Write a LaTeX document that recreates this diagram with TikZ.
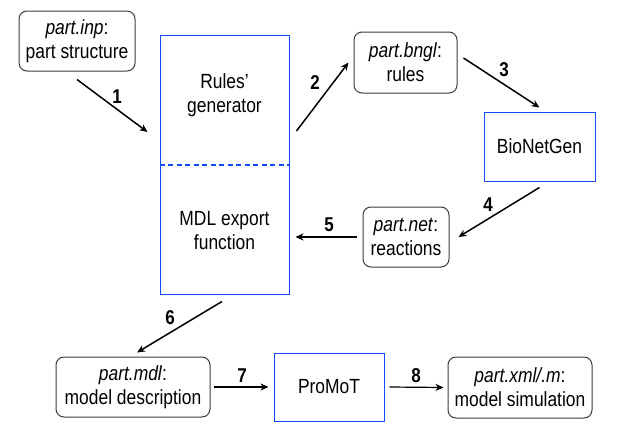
\documentclass[tikz,border=0pt]{standalone}
\usepackage{fontspec}
\setmainfont{Liberation Sans}[FakeStretch=0.85]
\usetikzlibrary{arrows.meta,calc}
\definecolor{bblue}{RGB}{20,75,255}
\definecolor{bgray}{RGB}{60,60,60}
\begin{document}
\begin{tikzpicture}[x=1pt,y=-1pt,
  txt/.style={font=\fontsize{20.5}{24}\selectfont, align=center, inner sep=0pt},
  filebox/.style={txt, draw=bgray, line width=1pt, rounded corners=8pt},
  toolbox/.style={txt, draw=bblue, line width=1pt},
  arr/.style={line width=1.5pt, -{Stealth[length=8pt,width=7pt,inset=2.5pt]}},
  num/.style={font=\fontsize{20}{20}\selectfont\bfseries, inner sep=0pt}]
\useasboundingbox (0,0) rectangle (625,429);

% nodes
\node[filebox, minimum width=116pt, minimum height=60pt] (inp) at (77,41) {\textit{part.inp}:\\part structure};
\node[toolbox, minimum width=129pt, minimum height=259pt] (rg) at (224.5,164.5) {};
\node[txt] (rgtxt) at (224.5,95.5) {Rules’\\generator};
\node[txt] (mdltxt) at (224.5,230.5) {MDL export\\function};
\draw[bblue, line width=2pt, dash pattern=on 5pt off 3.5pt] (rg.west |- 0,165) -- (rg.east |- 0,165);
\node[filebox, minimum width=103pt, minimum height=61pt] (bngl) at (405.5,62.5) {\textit{part.bngl}:\\rules};
\node[toolbox, minimum width=111pt, minimum height=69pt] (bng) at (539.5,146.5) {BioNetGen};
\node[filebox, minimum width=86pt, minimum height=60pt] (net) at (406,237) {\textit{part.net}:\\reactions};
\node[filebox, minimum width=154pt, minimum height=60pt] (mdl) at (133,387) {\textit{part.mdl}:\\model description};
\node[toolbox, minimum width=110pt, minimum height=68pt] (promot) at (329,387) {ProMoT};
\node[filebox, minimum width=144pt, minimum height=61pt] (xml) at (520,387.5) {\textit{part.xml/.m}:\\model simulation};

% connectors
\draw[arr] ([yshift=-8pt]inp.south) -- ([xshift=-12pt,yshift=32.5pt]rg.west);
\draw[arr] ([xshift=7pt,yshift=33.5pt]rg.east) -- ([xshift=-5pt]bngl.west);
\draw[arr] ([xshift=6pt,yshift=4.5pt]bngl.east) -- ([yshift=4pt]bng.north);
\draw[arr] ([yshift=-6pt]bng.south) -- ([xshift=9pt]net.east);
\draw[arr, line width=1.2pt] ([xshift=-6pt]net.west) -- ([xshift=6pt,yshift=-72.5pt]rg.east);
\draw[arr] ([xshift=-2.5pt,yshift=-7pt]rg.south) -- ([xshift=4pt,yshift=4pt]mdl.north);
\draw[arr, line width=1.8pt] ([xshift=3pt]mdl.east) -- ([xshift=-5pt]promot.west);
\draw[arr, line width=1.2pt] ([xshift=5pt]promot.east) -- ([xshift=-4pt]xml.west);

% labels
\node[num] (n1) at (117,97) {1};
\node[num] (n2) at (315,83) {2};
\node[num] (n3) at (504,70) {3};
\node[num] (n4) at (488,205) {4};
\node[num] (n5) at (329,225) {5};
\node[num] (n6) at (170,318) {6};
\node[num] (n7) at (242,376) {7};
\node[num] (n8) at (416,376) {8};
\end{tikzpicture}
\end{document}
